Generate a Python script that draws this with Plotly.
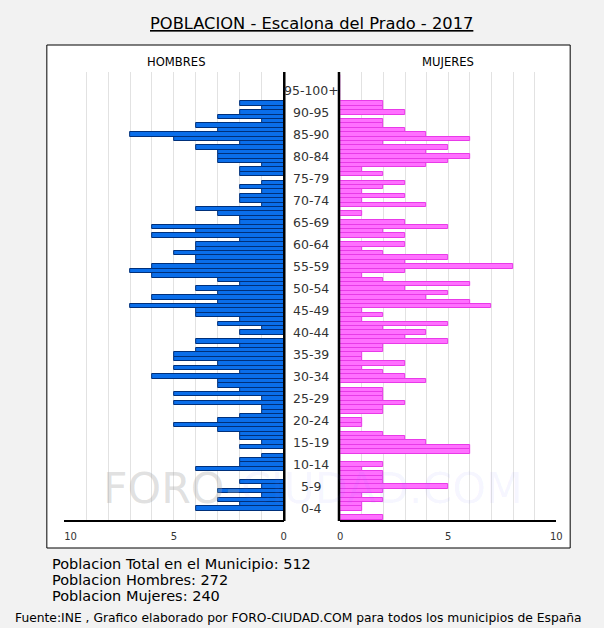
import plotly.graph_objects as go

W, H = 604, 628

KX, BX = 0.979, 9.8

def px(x):
    return max(((x - BX) / KX) / W, 0.0)

def py(y):
    return 1 - y / H

# ages 0..100 (single years)
ages = list(range(0, 101))

# Men by single year, listed from age 94 down to age 0
men_94_to_0 = [2, 1, 2, 3, 1, 4, 3, 7, 5, 2, 4, 3, 3, 3, 1, 2, 2, 0, 1, 2, 1, 2,
               2, 1, 4, 3, 2, 2, 6, 4, 6, 2, 4, 4, 5, 4, 4, 6, 7, 6, 3, 2, 4, 3, 6, 3,
               7, 4, 4, 2, 3, 1, 2, 0, 4, 2, 4, 5, 5, 3, 5, 2, 6, 3, 3, 2, 5, 1, 5, 1,
               1, 2, 3, 5, 3, 2, 2, 1, 2, 0, 1, 2, 2, 4, 0, 0, 2, 1, 3, 1, 3, 2, 4, 0, 0]
# Women by single year, listed from age 94 down to age 0
women_94_to_0 = [2, 2, 3, 0, 2, 2, 3, 4, 6, 2, 5, 4, 6, 5, 4, 1, 2, 0, 3, 2, 1, 3,
                 1, 4, 0, 1, 0, 3, 5, 2, 3, 0, 3, 1, 2, 5, 3, 8, 3, 1, 2, 6, 3, 5, 4, 6,
                 7, 1, 2, 1, 5, 2, 4, 3, 5, 2, 2, 1, 1, 3, 1, 2, 3, 4, 0, 2, 2, 2, 3, 2,
                 2, 0, 1, 1, 0, 2, 3, 4, 6, 6, 0, 0, 2, 1, 2, 2, 2, 5, 2, 1, 2, 1, 1, 0, 2]

men = list(reversed(men_94_to_0)) + [0] * 6      # ages 0..100
women = list(reversed(women_94_to_0)) + [0] * 6

group_labels = ["0-4", "5-9", "10-14", "15-19", "20-24", "25-29", "30-34", "35-39",
                "40-44", "45-49", "50-54", "55-59", "60-64", "65-69", "70-74",
                "75-79", "80-84", "85-90", "90-95", "95-100+"]
group_centers = [5 * i + 2 for i in range(len(group_labels))]

tick_vals = [0, 5, 10]
tick_text_men = ["0", "5", "\u2007\u200710"]
tick_text_women = ["0", "5", "10"]

FONT = "DejaVu Sans"

fig = go.Figure()
fig.add_trace(go.Bar(x=men, y=ages, orientation="h", xaxis="x", yaxis="y", width=1,
                     marker=dict(color="#0a6eea", line=dict(color="#00307a", width=1)),
                     hoverinfo="x+y", showlegend=False))
fig.add_trace(go.Bar(x=women, y=ages, orientation="h", xaxis="x2", yaxis="y", width=1,
                     marker=dict(color="#ff70ff", line=dict(color="#e83ae8", width=1)),
                     hoverinfo="x+y", showlegend=False))

yr = [-0.61, 101.2]
grid_col = "#e2e2e2"
common_x = dict(tickvals=tick_vals, showgrid=True, gridcolor=grid_col,
                gridwidth=1, zeroline=False, showline=True, linecolor="black", linewidth=2,
                ticks="", ticklabelstandoff=6,
                tickfont=dict(family=FONT, size=10, color="#333"),
                minor=dict(dtick=1, tick0=0, showgrid=True, gridcolor=grid_col, gridwidth=1))

fig.update_layout(
    autosize=True,
    margin=dict(l=0, r=0, t=0, b=0),
    paper_bgcolor="#f2f2f2",
    plot_bgcolor="white",
    bargap=0,
    xaxis=dict(domain=[px(61.5), px(283.5)], range=[10, 0], anchor="y",
               ticktext=tick_text_men, **common_x),
    xaxis2=dict(domain=[px(340.5), px(559)], range=[0, 10], anchor="y",
                ticktext=tick_text_women, **common_x),
    yaxis=dict(domain=[py(520), py(72)], range=yr, showticklabels=False, showgrid=False,
               zeroline=False, showline=False),
    font=dict(family=FONT),
)

shapes = [
    dict(type="rect", xref="paper", yref="paper", x0=px(44), x1=px(573), y0=py(548), y1=py(45),
         fillcolor="white", line=dict(color="black", width=1), layer="below"),
    dict(type="line", xref="paper", yref="paper", x0=px(284), x1=px(284), y0=py(521), y1=py(72),
         line=dict(color="black", width=2.5)),
    dict(type="line", xref="paper", yref="paper", x0=px(339.3), x1=px(339.3), y0=py(521), y1=py(72),
         line=dict(color="black", width=2.5)),
]
fig.update_layout(shapes=shapes)

ann = []
ann.append(dict(x=px(313.5), y=py(488), xref="paper", yref="paper",
                text="FORO-<span style='color:rgba(120,120,255,0.22)'>CIUDAD.COM</span>",
                showarrow=False, font=dict(family=FONT, size=42.7, color="rgba(160,160,160,0.33)"),
                xanchor="center", yanchor="middle"))
for lab, c in zip(group_labels, group_centers):
    ann.append(dict(x=px(311.5), y=c, xref="paper", yref="y", text=lab, showarrow=False,
                    font=dict(family=FONT, size=12.5, color="#333"),
                    xanchor="center", yanchor="middle"))
ann.append(dict(x=px(311.5), y=py(23), xref="paper", yref="paper",
                text="<u>POBLACION - Escalona del Prado - 2017</u>", showarrow=False,
                font=dict(family=FONT, size=16.3, color="black"), xanchor="center", yanchor="middle"))
ann.append(dict(x=px(175), y=py(62), xref="paper", yref="paper", text="HOMBRES", showarrow=False,
                font=dict(family=FONT, size=11.6, color="black"), xanchor="center", yanchor="middle"))
ann.append(dict(x=px(450), y=py(62), xref="paper", yref="paper", text="MUJERES", showarrow=False,
                font=dict(family=FONT, size=11.6, color="black"), xanchor="center", yanchor="middle"))
for txt, yy in [("Poblacion Total en el Municipio: 512", 563.5),
                ("Poblacion Hombres: 272", 579.5),
                ("Poblacion Mujeres: 240", 596)]:
    ann.append(dict(x=px(47), y=py(yy), xref="paper", yref="paper", text=txt, showarrow=False,
                    font=dict(family=FONT, size=14.5, color="black"), xanchor="left", yanchor="middle"))
ann.append(dict(x=px(9.8), y=py(618), xref="paper", yref="paper",
                text="Fuente:INE , Grafico elaborado por FORO-CIUDAD.COM para todos los municipios de España",
                showarrow=False, font=dict(family=FONT, size=12.3, color="black"),
                xanchor="left", yanchor="middle"))
fig.update_layout(annotations=ann)

fig.write_html("out.html",
               config={"displayModeBar": False, "responsive": True},
               default_width="100vw", default_height="100vh",
               post_script="document.body.style.margin='0';document.body.style.overflow='hidden';"
                           "document.documentElement.style.overflow='hidden';"
                           "Plotly.Plots.resize(document.getElementById('{plot_id}'));")
